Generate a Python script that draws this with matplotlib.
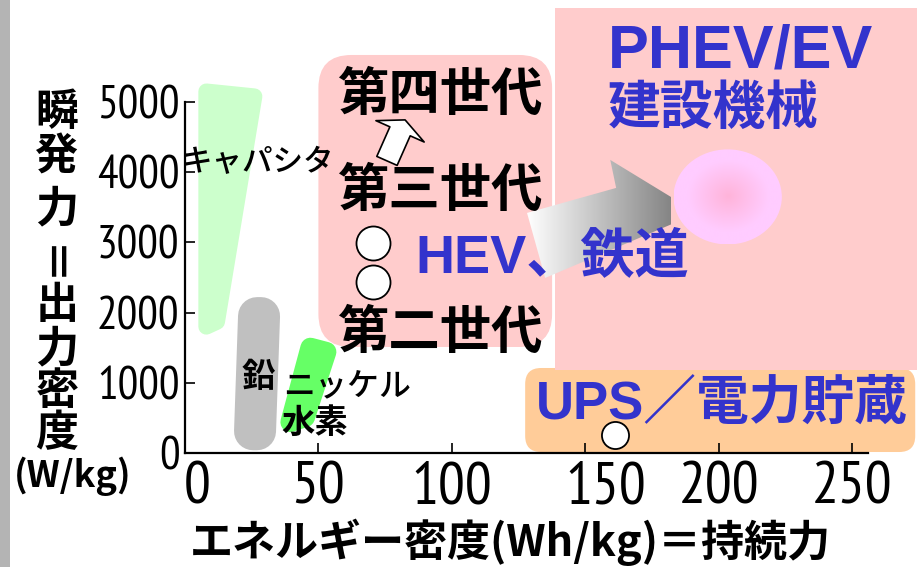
import numpy as np
import matplotlib
matplotlib.use('Agg')
import matplotlib.pyplot as plt
from matplotlib.patches import Polygon, Rectangle, FancyBboxPatch, Ellipse
from matplotlib.colors import LinearSegmentedColormap
from matplotlib.transforms import ScaledTranslation

plt.rcParams['font.family'] = ['Noto Sans CJK JP', 'DejaVu Sans']
narrow = ['Liberation Sans Narrow', 'Arial Narrow', 'PT Sans Narrow', 'DejaVu Sans']

# 軸
energy_ticks = [0, 50, 100, 150, 200, 250]
power_ticks = [0, 1000, 2000, 3000, 4000, 5000]

# 各電池の領域 (Wh/kg, W/kg)
cap_energy = [8, 26, 12, 8]
cap_power = [5150, 5080, 1870, 1800]
lead_energy = [27, 28.5, 27, 25.5]
lead_power = [1950, 1950, 310, 310]
nimh_energy = [47, 53, 45, 39.5]
nimh_power = [1500, 1440, 510, 440]

gen_box_energy = [50, 137.6]
gen_box_power = [1510, 5670]
phev_energy = [138.7, 275]
phev_power = [1183, 6340]
ups_energy = [127.5, 273.7]
ups_power = [14, 1211]

# リチウムイオン電池
gen_energy = [70.5, 70.5]
gen_power = [2990, 2440]
ups_cell_energy = [161]
ups_cell_power = [256]

# HEV → PHEV/EV の矢印と目標
shift_energy = [128.2, 161.6, 159.4, 190.1, 182.6, 135.0]
shift_power = [3420, 3776, 4175, 3463, 3263, 2494]
target_energy, target_power = 203.4, 3648
target_w, target_h = 40.6, 1354

# 第三世代 → 第四世代
step_energy = [75.7, 82.5]
step_power = [4161, 4745]

W, H = 917, 567
fig = plt.figure(figsize=(W / 100, H / 100), dpi=100)
ax = fig.add_axes([185 / W, 1 - 453 / H, (868 - 185) / W, (453 - 102) / H])
ax.set_xlim(0, 256)
ax.set_ylim(0, 5000)

# 1ピクセルあたりのデータ量
xu = 256 / (868 - 185)
yu = 5000 / (453 - 102)

# 左端のグレーの帯
fig.patches.append(Rectangle((0, 0), 10 / W, 1, transform=fig.transFigure,
                             fc='#b4b4b4', ec='none'))


def rounded_box(e, p, radius_px, color, z):
    box = FancyBboxPatch((e[0], p[0]), e[1] - e[0], p[1] - p[0],
                         boxstyle=f'round,pad=0,rounding_size={radius_px * xu}',
                         mutation_aspect=yu / xu, fc=color, ec='none',
                         zorder=z, clip_on=False)
    ax.add_patch(box)


def blob(e, p, color, lw_px):
    ax.add_patch(Polygon(np.column_stack([e, p]), closed=True, fc=color, ec=color,
                         lw=lw_px * 0.72, joinstyle='round', zorder=1.2, clip_on=False))


rounded_box(ups_energy, ups_power, 16, '#ffcc99', 1)
ax.add_patch(Rectangle((phev_energy[0], phev_power[0]), phev_energy[1] - phev_energy[0],
                       phev_power[1] - phev_power[0], fc='#ffcccc', ec='none',
                       zorder=1.05, clip_on=False))
rounded_box(gen_box_energy, gen_box_power, 33, '#ffcccc', 1.05)

blob(cap_energy, cap_power, '#ccffcc', 16)
blob(lead_energy, lead_power, '#c0c0c0', 38)
blob(nimh_energy, nimh_power, '#66ff66', 20)

# グラデーションの矢印
shift_poly = Polygon(np.column_stack([shift_energy, shift_power]), closed=True,
                     fc='none', ec='none')
ax.add_patch(shift_poly)
grad = np.linspace(0, 1, 256).reshape(1, -1)
im = ax.imshow(grad, cmap=LinearSegmentedColormap.from_list('shift', ['#ffffff', '#858585']),
               extent=[min(shift_energy), 182, min(shift_power), max(shift_power)],
               aspect='auto', zorder=2, interpolation='bilinear')
im.set_clip_path(shift_poly)

# PHEV/EV の目標（ピンクの円）
glow = Ellipse((target_energy, target_power), target_w, target_h, fc='none', ec='none')
ax.add_patch(glow)
yy, xx = np.mgrid[-1:1:200j, -1:1:200j]
r = np.clip(np.hypot(xx, yy) / 0.75, 0, 1)
im2 = ax.imshow(r, cmap=LinearSegmentedColormap.from_list('glow', ['#ffb4da', '#ffccff']),
                extent=[target_energy - target_w / 2, target_energy + target_w / 2,
                        target_power - target_h / 2, target_power + target_h / 2],
                aspect='auto', zorder=2.1, interpolation='bilinear')
im2.set_clip_path(glow)

ax.plot(gen_energy, gen_power, 'o', ms=24.5, mfc='white', mec='black', mew=1.3,
        ls='none', zorder=2.2)
ax.plot(ups_cell_energy, ups_cell_power, 'o', ms=19.5, mfc='white', mec='black', mew=1.3,
        ls='none', zorder=2.6, clip_on=False)

ax.annotate('', xy=(step_energy[1], step_power[1]), xytext=(step_energy[0], step_power[0]),
            arrowprops=dict(arrowstyle='simple,head_length=9,head_width=38,tail_width=16',
                            mutation_scale=1, fc='white', ec='black', lw=1.2,
                            shrinkA=0, shrinkB=0), zorder=2.3)

ax.set_xlim(0, 256)
ax.set_ylim(0, 5000)

# 軸の体裁
for side in ['top', 'right']:
    ax.spines[side].set_visible(False)
for side in ['left', 'bottom']:
    ax.spines[side].set_linewidth(1.6)
ax.set_xticks(energy_ticks)
ax.set_yticks(power_ticks)
ax.tick_params(axis='both', direction='in', length=7, width=1.2)
ax.tick_params(axis='x', pad=6, labelsize=43)
ax.tick_params(axis='y', pad=4, labelsize=33)
for lbl in ax.get_xticklabels() + ax.get_yticklabels():
    lbl.set_fontfamily(narrow)
xl = ax.get_xticklabels()
xl[0].set_transform(xl[0].get_transform() + ScaledTranslation(12 / 100, 0, fig.dpi_scale_trans))
xl[3].set_transform(xl[3].get_transform() + ScaledTranslation(21 / 100, 0, fig.dpi_scale_trans))


def label(x, y, s, size, color='black', weight='bold', family=None, ha='center', **kw):
    fig.text(x / W, 1 - y / H, s, fontsize=size, color=color, weight=weight,
             family=family, ha=ha, va='center', zorder=5, **kw)


# 縦軸タイトル
for ch, yc in zip('瞬発力＝出力密度', [112, 157, 208, 255, 305, 348, 391, 433]):
    label(57, yc, ch, 31, rotation=90 if ch == '＝' else 0)
label(73, 476, '(W/kg)', 26)
label(510, 542, 'エネルギー密度(Wh/kg)＝持続力', 31)

label(258, 163, 'キャパシタ', 22, weight='medium')
label(258, 377, '鉛', 24)
label(347, 387, 'ニッケル', 23, weight='medium')
label(315, 423, '水素', 24)

label(440, 94, '第四世代', 37)
label(440, 190, '第三世代', 37)
label(440, 332, '第二世代', 37)

blue = '#3333cc'
mix = ['Liberation Sans', 'Noto Sans CJK JP']
label(552, 258, 'HEV、鉄道', 39, color=blue, family=mix)
label(608, 52, 'PHEV/EV', 44, color=blue, family=mix, ha='left')
label(608, 109, '建設機械', 38, color=blue, ha='left')
label(722, 405, 'UPS／電力貯蔵', 38, color=blue, family=mix)

fig.savefig('out.png', dpi=100)
